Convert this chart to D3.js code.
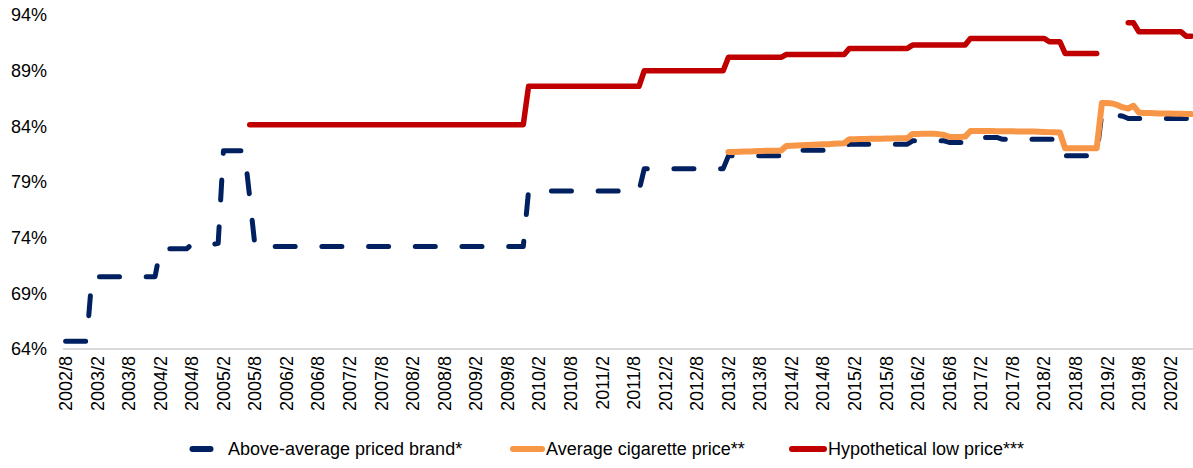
<!DOCTYPE html>
<html>
<head>
<meta charset="utf-8">
<script src="https://cdn.jsdelivr.net/npm/d3@7"></script>
<style>
  body { margin: 0; background: #fff; }
  svg text { font-family: "Liberation Sans", Arial, sans-serif; fill: #000; }
</style>
</head>
<body>
<svg id="chart" width="1193" height="468"></svg>
<script>
// Monthly series, August 2002 through June 2020 (one value per month, % of reference price)
const startYear = 2002, startMonth = 8, monthCount = 215;

// Above-average priced brand*
const aboveAverage = [
  /*2002 Aug-Dec*/ 64.7, 64.7, 64.7, 64.7, 64.7,
  /*2003*/ 70.5, 70.5, 70.5, 70.5, 70.5, 70.5, 70.5, 70.5, 70.5, 70.5, 70.5, 70.5,
  /*2004*/ 70.5, 73.0, 73.0, 73.0, 73.0, 73.0, 73.0, 73.4, 73.4, 73.4, 73.4, 73.4,
  /*2005*/ 73.5, 81.8, 81.8, 81.8, 81.8, 81.8, 77.6, 73.2, 73.2, 73.2, 73.2, 73.2,
  /*2006*/ 73.2, 73.2, 73.2, 73.2, 73.2, 73.2, 73.2, 73.2, 73.2, 73.2, 73.2, 73.2,
  /*2007*/ 73.2, 73.2, 73.2, 73.2, 73.2, 73.2, 73.2, 73.2, 73.2, 73.2, 73.2, 73.2,
  /*2008*/ 73.2, 73.2, 73.2, 73.2, 73.2, 73.2, 73.2, 73.2, 73.2, 73.2, 73.2, 73.2,
  /*2009*/ 73.2, 73.2, 73.2, 73.2, 73.2, 73.2, 73.2, 73.2, 73.2, 73.2, 73.2, 78.2,
  /*2010*/ 78.2, 78.2, 78.2, 78.2, 78.2, 78.2, 78.2, 78.2, 78.2, 78.2, 78.2, 78.2,
  /*2011*/ 78.2, 78.2, 78.2, 78.2, 78.2, 78.2, 78.2, 78.2, 78.2, 80.2, 80.2, 80.2,
  /*2012*/ 80.2, 80.2, 80.2, 80.2, 80.2, 80.2, 80.2, 80.2, 80.2, 80.2, 80.2, 80.2,
  /*2013*/ 80.2, 81.35, 81.35, 81.35, 81.35, 81.35, 81.35, 81.35, 81.35, 81.35, 81.35, 81.35,
  /*2014*/ 81.85, 81.85, 81.85, 81.85, 81.85, 81.85, 81.85, 81.85, 81.85, 81.9, 82.0, 82.2,
  /*2015*/ 82.4, 82.4, 82.4, 82.4, 82.4, 82.4, 82.4, 82.4, 82.4, 82.4, 82.4, 82.4,
  /*2016*/ 82.7, 82.7, 82.7, 82.7, 82.7, 82.7, 82.7, 82.55, 82.55, 82.55, 82.55, 83.0,
  /*2017*/ 83.0, 83.0, 83.0, 83.0, 83.0, 82.85, 82.85, 82.85, 82.85, 82.85, 82.85, 82.85,
  /*2018*/ 82.85, 82.85, 82.85, 82.85, 82.85, 81.35, 81.35, 81.35, 81.35, 81.35, 81.35, 81.35,
  /*2019*/ 85.3, 85.3, 85.2, 85.0, 84.9, 84.7, 84.7, 84.7, 84.7, 84.7, 84.7, 84.7,
  /*2020 Jan-Jun*/ 84.7, 84.7, 84.7, 84.7, 84.7, 84.7
];

// Average cigarette price**
const averagePrice = [
  /*2002 Aug-Dec*/ null, null, null, null, null,
  /*2003*/ null, null, null, null, null, null, null, null, null, null, null, null,
  /*2004*/ null, null, null, null, null, null, null, null, null, null, null, null,
  /*2005*/ null, null, null, null, null, null, null, null, null, null, null, null,
  /*2006*/ null, null, null, null, null, null, null, null, null, null, null, null,
  /*2007*/ null, null, null, null, null, null, null, null, null, null, null, null,
  /*2008*/ null, null, null, null, null, null, null, null, null, null, null, null,
  /*2009*/ null, null, null, null, null, null, null, null, null, null, null, null,
  /*2010*/ null, null, null, null, null, null, null, null, null, null, null, null,
  /*2011*/ null, null, null, null, null, null, null, null, null, null, null, null,
  /*2012*/ null, null, null, null, null, null, null, null, null, null, null, null,
  /*2013*/ null, 81.7, 81.7, 81.72, 81.74, 81.75, 81.76, 81.78, 81.8, 81.8, 81.8, 81.82,
  /*2014*/ 82.24, 82.26, 82.28, 82.3, 82.32, 82.34, 82.36, 82.38, 82.4, 82.43, 82.46, 82.48,
  /*2015*/ 82.84, 82.85, 82.86, 82.87, 82.88, 82.88, 82.89, 82.9, 82.91, 82.92, 82.93, 82.93,
  /*2016*/ 83.32, 83.32, 83.33, 83.33, 83.34, 83.3, 83.22, 83.05, 83.05, 83.05, 83.08, 83.58,
  /*2017*/ 83.58, 83.58, 83.57, 83.57, 83.56, 83.56, 83.55, 83.55, 83.54, 83.54, 83.53, 83.53,
  /*2018*/ 83.52, 83.5, 83.48, 83.46, 83.45, 82.03, 82.03, 82.03, 82.03, 82.03, 82.03, 82.03,
  /*2019*/ 86.1, 86.1, 86.05, 85.9, 85.7, 85.6, 85.85, 85.25, 85.2, 85.2, 85.18, 85.16,
  /*2020 Jan-Jun*/ 85.15, 85.15, 85.14, 85.12, 85.1, 85.1
];

// Hypothetical low price***
const hypotheticalLow = [
  /*2002 Aug-Dec*/ null, null, null, null, null,
  /*2003*/ null, null, null, null, null, null, null, null, null, null, null, null,
  /*2004*/ null, null, null, null, null, null, null, null, null, null, null, null,
  /*2005*/ null, null, null, null, null, null, 84.15, 84.15, 84.15, 84.15, 84.15, 84.15,
  /*2006*/ 84.15, 84.15, 84.15, 84.15, 84.15, 84.15, 84.15, 84.15, 84.15, 84.15, 84.15, 84.15,
  /*2007*/ 84.15, 84.15, 84.15, 84.15, 84.15, 84.15, 84.15, 84.15, 84.15, 84.15, 84.15, 84.15,
  /*2008*/ 84.15, 84.15, 84.15, 84.15, 84.15, 84.15, 84.15, 84.15, 84.15, 84.15, 84.15, 84.15,
  /*2009*/ 84.15, 84.15, 84.15, 84.15, 84.15, 84.15, 84.15, 84.15, 84.15, 84.15, 84.15, 87.6,
  /*2010*/ 87.6, 87.6, 87.6, 87.6, 87.6, 87.6, 87.6, 87.6, 87.6, 87.6, 87.6, 87.6,
  /*2011*/ 87.6, 87.6, 87.6, 87.6, 87.6, 87.6, 87.6, 87.6, 87.6, 89.0, 89.0, 89.0,
  /*2012*/ 89.0, 89.0, 89.0, 89.0, 89.0, 89.0, 89.0, 89.0, 89.0, 89.0, 89.0, 89.0,
  /*2013*/ 89.0, 90.2, 90.2, 90.2, 90.2, 90.2, 90.2, 90.2, 90.2, 90.2, 90.2, 90.2,
  /*2014*/ 90.45, 90.45, 90.45, 90.45, 90.45, 90.45, 90.45, 90.45, 90.45, 90.45, 90.45, 90.45,
  /*2015*/ 91.0, 91.0, 91.0, 91.0, 91.0, 91.0, 91.0, 91.0, 91.0, 91.0, 91.0, 91.0,
  /*2016*/ 91.3, 91.3, 91.3, 91.3, 91.3, 91.3, 91.3, 91.3, 91.3, 91.3, 91.3, 91.9,
  /*2017*/ 91.9, 91.9, 91.9, 91.9, 91.9, 91.9, 91.9, 91.9, 91.9, 91.9, 91.9, 91.9,
  /*2018*/ 91.9, 91.9, 91.6, 91.6, 91.6, 90.55, 90.55, 90.55, 90.55, 90.55, 90.55, 90.55,
  /*2019*/ null, null, null, null, null, 93.3, 93.3, 92.5, 92.5, 92.5, 92.5, 92.5,
  /*2020 Jan-Jun*/ 92.5, 92.5, 92.5, 92.5, 92.1, 92.1
];

// Axis labels
const yTicks = [64, 69, 74, 79, 84, 89, 94];
const xTickLabels = [
  "2002/8", "2003/2", "2003/8", "2004/2", "2004/8", "2005/2", "2005/8", "2006/2", "2006/8",
  "2007/2", "2007/8", "2008/2", "2008/8", "2009/2", "2009/8", "2010/2", "2010/8", "2011/2",
  "2011/8", "2012/2", "2012/8", "2013/2", "2013/8", "2014/2", "2014/8", "2015/2", "2015/8",
  "2016/2", "2016/8", "2017/2", "2017/8", "2018/2", "2018/8", "2019/2", "2019/8", "2020/2"
];

// Month keys for the category axis, "YYYY/M"
const categories = d3.range(monthCount).map(i => {
  const m = startMonth - 1 + i;
  return (startYear + Math.floor(m / 12)) + "/" + (m % 12 + 1);
});

const seriesDefs = [
  { name: "Above-average priced brand*", values: aboveAverage, color: "#002060", width: 5, dash: "20,26.7" },
  { name: "Average cigarette price**", values: averagePrice, color: "#F79646", width: 6, dash: null },
  { name: "Hypothetical low price***", values: hypotheticalLow, color: "#C00000", width: 5.5, dash: null }
];

const svg = d3.select("#chart");
const plot = { left: 63, right: 1194, top: 15, bottom: 349 };

const x = d3.scaleBand().domain(categories).range([plot.left, plot.right]).padding(0);
const cx = c => x(c) + x.bandwidth() / 2;
const y = d3.scaleLinear().domain([64, 94]).range([plot.bottom, plot.top]);

// Baseline
svg.append("line")
  .attr("x1", plot.left).attr("x2", 1193)
  .attr("y1", y(64)).attr("y2", y(64))
  .attr("stroke", "#d9d9d9").attr("stroke-width", 2);

// Y axis labels
const yAxis = d3.axisLeft(y).tickValues(yTicks).tickFormat(d => d + "%").tickSize(0).tickPadding(16);
svg.append("g")
  .attr("transform", `translate(${plot.left},0)`)
  .call(yAxis)
  .call(g => g.select(".domain").remove())
  .call(g => g.selectAll("text").style("font-size", "18px").style("font-family", "'Liberation Sans', Arial, sans-serif").attr("fill", "#000"));

// X axis labels, rotated
const xAxis = d3.axisBottom(x).tickValues(xTickLabels).tickSize(0);
svg.append("g")
  .attr("transform", `translate(0,${plot.bottom})`)
  .call(xAxis)
  .call(g => g.select(".domain").remove())
  .call(g => g.selectAll("text")
    .style("font-size", "18px")
    .style("font-family", "'Liberation Sans', Arial, sans-serif")
    .attr("fill", "#000")
    .attr("transform", "rotate(-90)")
    .attr("x", -7).attr("y", 0).attr("dy", "0.35em")
    .style("text-anchor", "end"));

// Series lines
const line = d3.line()
  .defined(d => d.v != null)
  .x(d => cx(d.c))
  .y(d => y(d.v));

seriesDefs.forEach(s => {
  const pts = categories.map((c, i) => ({ c, v: s.values[i] }));
  svg.append("path")
    .datum(pts)
    .attr("d", line)
    .attr("fill", "none")
    .attr("stroke", s.color)
    .attr("stroke-width", s.width)
    .attr("stroke-linecap", "round")
    .attr("stroke-linejoin", "round")
    .attr("stroke-dasharray", s.dash);
});

// Legend
const legendY = 449;
const legendItems = [
  { x1: 192.5, x2: 210.5, tx: 228 },
  { x1: 513, x2: 542, tx: 546 },
  { x1: 792, x2: 824, tx: 828 }
];
const lg = svg.append("g");
seriesDefs.forEach((s, i) => {
  const it = legendItems[i];
  lg.append("line")
    .attr("x1", it.x1).attr("x2", it.x2)
    .attr("y1", legendY).attr("y2", legendY)
    .attr("stroke", s.color).attr("stroke-width", 6)
    .attr("stroke-linecap", "round");
  lg.append("text")
    .attr("x", it.tx).attr("y", legendY).attr("dy", "0.35em")
    .style("font-size", "18px")
    .text(s.name);
});
</script>
</body>
</html>
